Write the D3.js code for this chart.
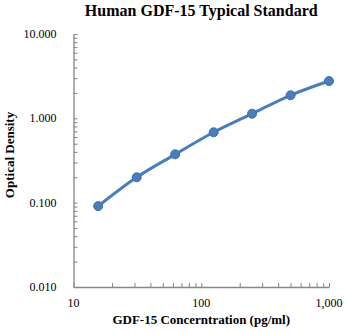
<!DOCTYPE html>
<html>
<head>
<meta charset="utf-8">
<script src="https://cdn.jsdelivr.net/npm/d3@7"></script>
<style>
  body { margin: 0; background: #fff; }
  svg { display: block; }
  text { font-family: "Liberation Serif", "Times New Roman", serif; }
</style>
</head>
<body>
<div id="chart"></div>
<script>
const W = 346, H = 333;
const margins = { top: 34, left: 73.5, bottom: 46, right: 17 };
const innerWidth = W - margins.left - margins.right;
const innerHeight = H - margins.top - margins.bottom;

// standard curve values
const concentration = [15.6, 31.25, 62.5, 125, 250, 500, 1000];
const od = [0.091, 0.200, 0.374, 0.683, 1.135, 1.876, 2.77];

const xTicks = [10, 100, 1000];
const yTicks = [0.01, 0.1, 1, 10];

const xScale = d3.scaleLog().domain([10, 1000]).range([0, innerWidth]);
const yScale = d3.scaleLog().domain([0.01, 10]).range([innerHeight, 0]);

const svg = d3.select("#chart").append("svg")
  .attr("width", W).attr("height", H);

const g = svg.append("g")
  .attr("transform", `translate(${margins.left}, ${margins.top})`);

const axisColor = "#868686";

// minor ticks for each decade
function decadeTicks(lo, hi) {
  const out = [];
  for (let d = lo; d < hi; d *= 10) {
    for (let k = 1; k < 10; k++) out.push(d * k);
  }
  out.push(hi);
  return out;
}

const xAxis = d3.axisBottom(xScale)
  .tickValues(decadeTicks(10, 1000))
  .tickSizeInner(-4).tickSizeOuter(0);
const yAxis = d3.axisLeft(yScale)
  .tickValues(decadeTicks(0.01, 10))
  .tickSizeInner(-4).tickSizeOuter(0);

const gx = g.append("g")
  .attr("transform", `translate(0, ${innerHeight})`)
  .call(xAxis);
const gy = g.append("g").call(yAxis);

[gx, gy].forEach(a => {
  a.select(".domain").attr("stroke", axisColor).attr("stroke-width", 1.3);
  a.selectAll(".tick line").attr("stroke", axisColor);
  a.selectAll(".tick text").remove();
});

// tick labels
g.selectAll(".xlab")
  .data(xTicks)
  .enter().append("text")
  .attr("x", d => xScale(d))
  .attr("y", innerHeight + 20)
  .attr("text-anchor", "middle")
  .style("font-size", "12px")
  .text(d => d3.format(",")(d));

g.selectAll(".ylab")
  .data(yTicks)
  .enter().append("text")
  .attr("x", -17)
  .attr("y", d => yScale(d) + 4)
  .attr("text-anchor", "end")
  .style("font-size", "12px")
  .text(d => d3.format(".3f")(d));

// fitted curve
const pts = concentration.map((c, i) => [c, od[i]]);
const line = d3.line()
  .x(d => xScale(d[0]))
  .y(d => yScale(d[1]))
  .curve(d3.curveCatmullRom.alpha(0.5));

g.append("path")
  .datum(pts)
  .attr("fill", "none")
  .attr("stroke", "#4a7ebb")
  .attr("stroke-width", 3)
  .attr("d", line);

g.selectAll("circle")
  .data(pts)
  .enter().append("circle")
  .attr("cx", d => xScale(d[0]))
  .attr("cy", d => yScale(d[1]))
  .attr("r", 4.5)
  .attr("fill", "#4a7ebb")
  .attr("stroke", "#3d6fb3")
  .attr("stroke-width", 1);

// titles
svg.append("text")
  .attr("x", margins.left + innerWidth / 2)
  .attr("y", 16)
  .attr("text-anchor", "middle")
  .style("font-size", "16px")
  .style("font-weight", "bold")
  .text("Human GDF-15 Typical Standard");

svg.append("text")
  .attr("x", margins.left + innerWidth / 2)
  .attr("y", 324)
  .attr("text-anchor", "middle")
  .style("font-size", "13px")
  .style("font-weight", "bold")
  .text("GDF-15 Concerntration (pg/ml)");

svg.append("text")
  .attr("transform", "translate(14, 155) rotate(-90)")
  .attr("text-anchor", "middle")
  .style("font-size", "13px")
  .style("font-weight", "bold")
  .text("Optical Density");
</script>
</body>
</html>
